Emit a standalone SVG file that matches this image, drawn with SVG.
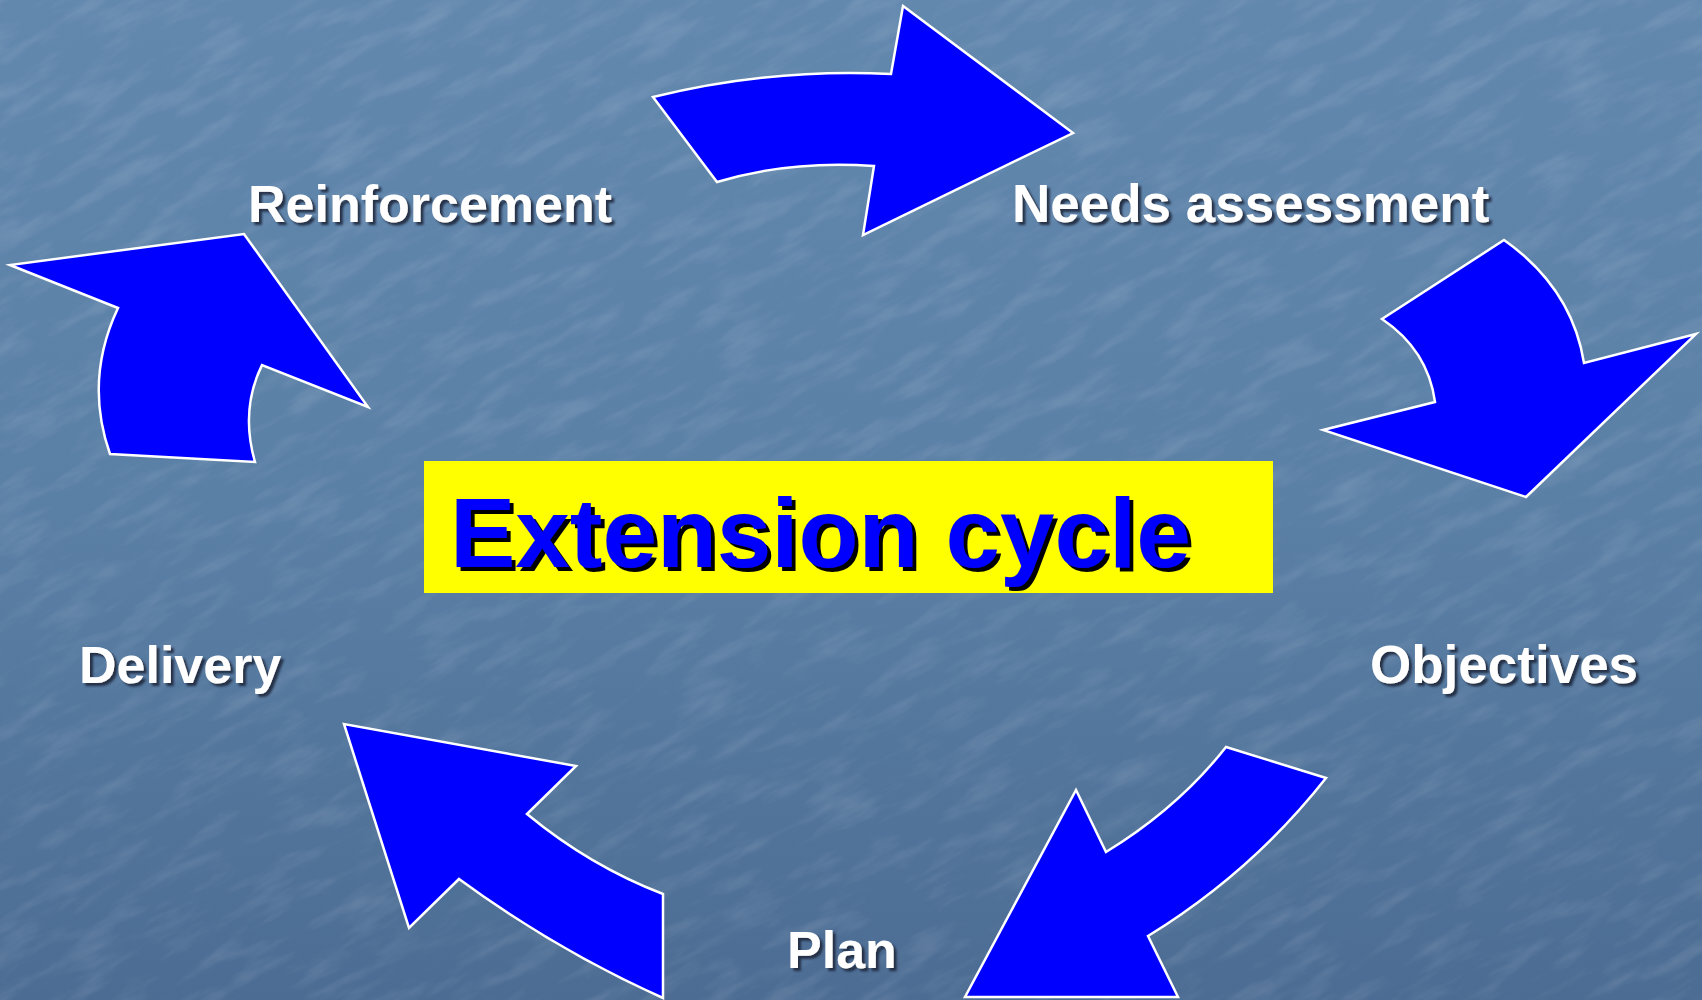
<svg xmlns="http://www.w3.org/2000/svg" width="1702" height="1000" viewBox="0 0 1702 1000">
<defs>
<linearGradient id="bg" x1="0" y1="0" x2="0" y2="1">
<stop offset="0" stop-color="#6388ae"/>
<stop offset="0.5" stop-color="#5b80a6"/>
<stop offset="1" stop-color="#4c6c93"/>
</linearGradient>
<filter id="tex" x="0" y="0" width="100%" height="100%">
<feTurbulence type="fractalNoise" baseFrequency="0.015 0.06" numOctaves="4" seed="7" result="n"/>
<feColorMatrix in="n" type="matrix" values="0 0 0 0 1  0 0 0 0 1  0 0 0 0 1  0 0 0 1.2 -0.55"/>
</filter>
<filter id="shadow" x="-10%" y="-20%" width="120%" height="150%">
<feDropShadow dx="3" dy="3" stdDeviation="0.8" flood-color="#1e2b3c" flood-opacity="0.9"/>
</filter>
<filter id="tshadow" x="-10%" y="-20%" width="120%" height="150%">
<feDropShadow dx="4" dy="4" stdDeviation="0" flood-color="#000000" flood-opacity="1"/>
</filter>
</defs>
<style>
.arrow{fill:#0000ff;stroke:#ffffff;stroke-width:2.5;stroke-linejoin:miter}
.lbl{font-family:"Liberation Sans",Arial,sans-serif;font-weight:bold;font-size:52px;fill:#ffffff;filter:url(#shadow)}
.title{font-family:"Liberation Sans",Arial,sans-serif;font-weight:bold;font-size:98px;fill:#0000ff;filter:url(#tshadow)}
</style>
<rect width="1702" height="1000" fill="url(#bg)"/>
<g transform="rotate(-28 851 500)" opacity="0.2">
<rect x="-400" y="-600" width="2500" height="2200" filter="url(#tex)"/>
</g>

<g id="connectors">
<path class="arrow" d="M653,97 Q770,68 891,74 L903,6 L1073,133 L863,235 L874,166 Q790,160 717,182 Z"/>
<path class="arrow" d="M1504,240 Q1572,288 1584,363 L1696,334 L1526,497 L1323,430 L1435,402 Q1428,350 1382,319 Z"/>
<path class="arrow" d="M1226,747 L1326,778 Q1252,872 1148,936 L1178,997 L965,997 L1076,790 L1106,852 Q1178,808 1226,747 Z"/>
<path class="arrow" d="M663,998 Q556,950 459,879 L409,928 L344,724 L576,766 L527,814 Q590,866 663,894 Z"/>
<path class="arrow" d="M110,454 Q84,380 118,308 L10,265 L244,234 L368,407 L262,365 Q240,410 255,462 Z"/>
</g>

<g id="title">
<rect x="424" y="461" width="849" height="132" fill="#ffff00"/>
<text class="title" x="450" y="567">Extension cycle</text>
</g>

<g id="node-needs">
<text class="lbl" x="1012" y="222" style="font-size:53px">Needs assessment</text>
</g>
<g id="node-objectives">
<text class="lbl" x="1370" y="683" style="font-size:53px">Objectives</text>
</g>
<g id="node-plan">
<text class="lbl" x="787" y="968">Plan</text>
</g>
<g id="node-delivery">
<text class="lbl" x="79" y="683">Delivery</text>
</g>
<g id="node-reinforcement">
<text class="lbl" x="248" y="222">Reinforcement</text>
</g>
</svg>
